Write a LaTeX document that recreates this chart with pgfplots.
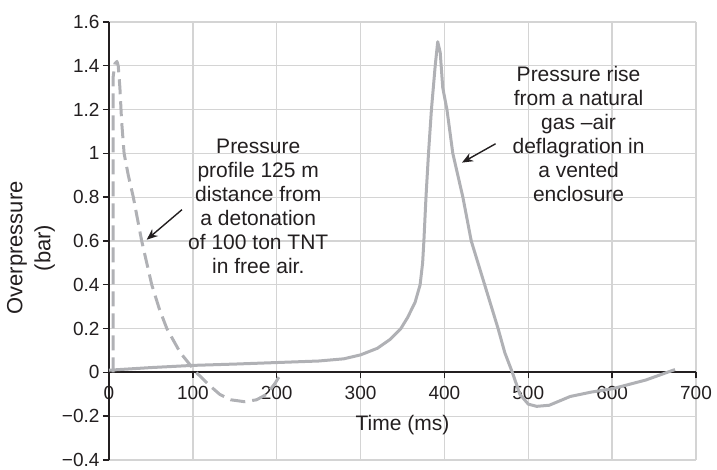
\documentclass[border=0pt]{standalone}
\usepackage{pgfplots}
\pgfplotsset{compat=1.18}
\usepackage{fontspec}
\setmainfont{Liberation Sans}
\usetikzlibrary{arrows.meta}
\definecolor{curve}{RGB}{176,177,181}
\definecolor{gridc}{RGB}{212,212,212}
\definecolor{txt}{RGB}{35,31,32}
\begin{document}
\begin{tikzpicture}
\begin{axis}[
  scale only axis, width=587pt, height=438pt,
  xmin=0, xmax=700, ymin=-0.4, ymax=1.6,
  axis x line=middle, axis y line=left,
  every inner x axis line/.append style={-},
  every outer x axis line/.append style={-},
  every outer y axis line/.append style={-},
  axis line style={line width=2.2pt, txt},
  hide obscured x ticks=false,
  xtick={0,100,200,300,400,500,600,700},
  xticklabels={0,100,200,300,400,500,600,700},
  ytick={-0.4,-0.2,0,0.2,0.4,0.6,0.8,1,1.2,1.4,1.6},
  yticklabels={−0.4,−0.2,0,0.2,0.4,0.6,0.8,1,1.2,1.4,1.6},
  grid=major,
  major grid style={draw=gridc, line width=1.3pt},
  tick align=outside, major tick length=6pt,
  tick style={txt, line width=1.4pt},
  tick label style={font=\fontsize{19}{19}\selectfont, text=txt},
  xticklabel style={yshift=-4pt},
  ylabel={Overpressure\\(bar)},
  every axis y label/.style={at={([xshift=-78pt]axis description cs:0,0.484)}, rotate=90, anchor=center, align=center, font=\fontsize{22}{28}\selectfont, text=txt},
]
\addplot[curve, line width=3pt, dash pattern=on 15pt off 7pt, line join=round] coordinates {
(5,0) (5,1.35) (7,1.41) (9.5,1.42) (11,1.40) (13,1.3) (15,1.15) (18,1.0) (23,0.9) (29,0.8) (39,0.6) (51,0.4) (60,0.29) (69,0.2) (85,0.09) (104,0) (120,-0.06) (132,-0.1) (145,-0.125) (162,-0.134) (176,-0.125) (188,-0.1) (198,-0.05) (206,0)
};
\addplot[curve, line width=3pt, line join=round] coordinates {
(0,0.01) (50,0.022) (100,0.032) (150,0.038) (200,0.045) (250,0.052) (280,0.062) (300,0.08) (320,0.11) (335,0.15) (348,0.2) (356,0.25) (365,0.32) (371,0.4) (374,0.5) (375.5,0.6) (378,0.8) (381,1.0) (384.5,1.2) (389,1.4) (392,1.51) (395,1.46) (398,1.3) (403,1.2) (410,1.0) (422,0.8) (432,0.6) (448,0.4) (464,0.2) (472,0.09) (481,0) (490,-0.1) (500,-0.145) (510,-0.155) (525,-0.15) (550,-0.11) (575,-0.09) (600,-0.075) (640,-0.035) (675,0.013)
};
\node[font=\fontsize{21}{24}\selectfont, text=txt] at (axis cs:350,-0.24) {Time (ms)};
\node[align=center, font=\fontsize{21}{24}\selectfont, text=txt] at (axis cs:178,0.76) {Pressure\\profile 125 m\\distance from\\a detonation\\of 100 ton TNT\\in free air.};
\node[align=center, font=\fontsize{21}{24}\selectfont, text=txt] at (axis cs:560,1.09) {Pressure rise\\from a natural\\gas –air\\deflagration in\\a vented\\enclosure};
\draw[-{Stealth[length=11pt,width=9pt]}, line width=1.4pt, txt] (axis cs:87,0.743) -- (axis cs:45,0.606);
\draw[-{Stealth[length=11pt,width=9pt]}, line width=1.4pt, txt] (axis cs:461,1.044) -- (axis cs:421,0.958);
\end{axis}
\pgfresetboundingbox
\path ([xshift=-109pt,yshift=-10pt]current axis.south west) rectangle ([xshift=608pt,yshift=460pt]current axis.south west);
\end{tikzpicture}
\end{document}
